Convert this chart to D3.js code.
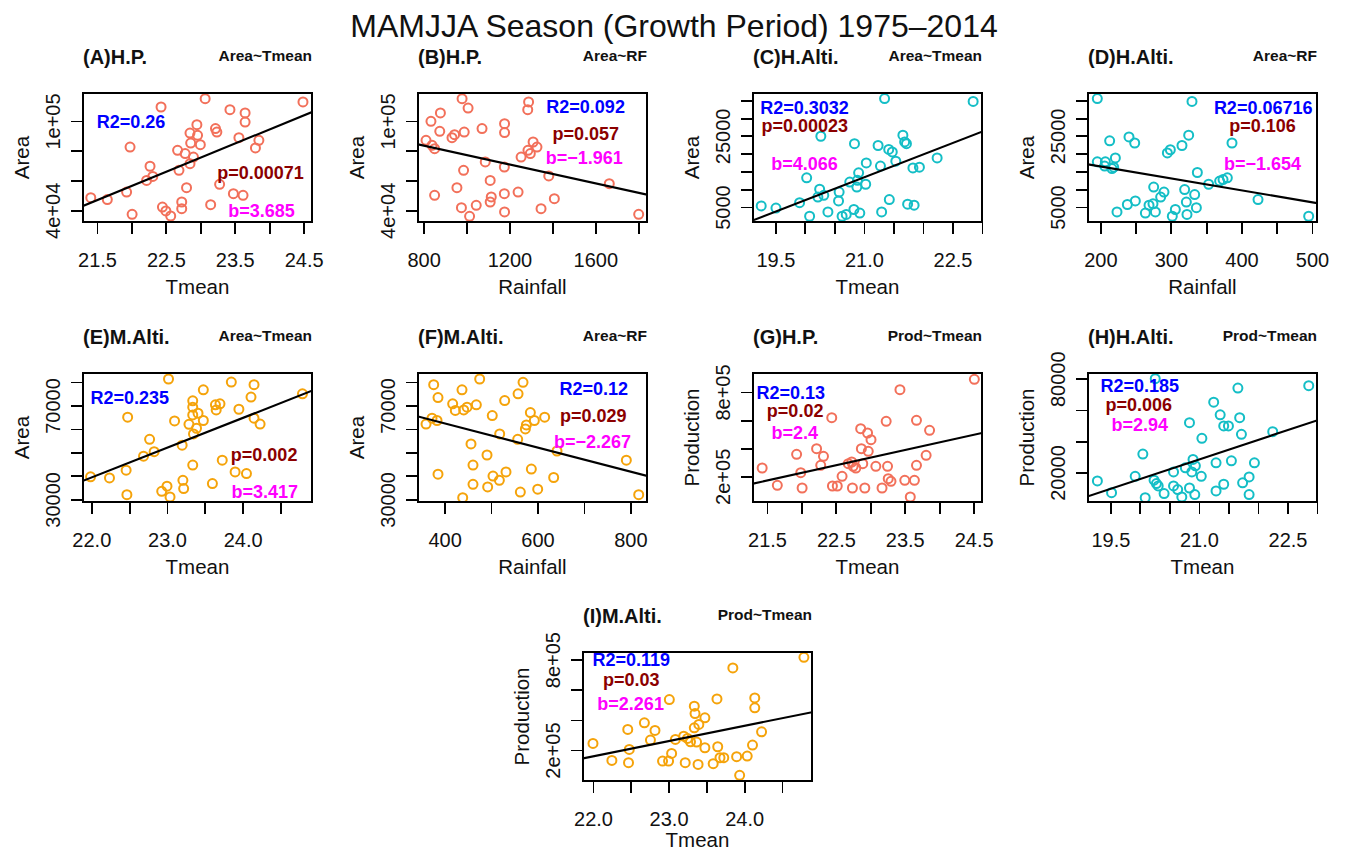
<!DOCTYPE html>
<html><head><meta charset="utf-8">
<script src="https://cdn.jsdelivr.net/npm/d3@7"></script>
<style>body{margin:0;background:#fff} svg{display:block} text{font-family:"Liberation Sans",Arial,Helvetica,sans-serif}</style>
</head><body><svg id="c" width="1347" height="854"></svg>
<script>
// ---------- DATA ----------
const mainTitle = "MAMJJA Season (Growth Period) 1975\u20132014";
const panelLabels = ["(A)H.P.","(B)H.P.","(C)H.Alti.","(D)H.Alti.","(E)M.Alti.","(F)M.Alti.","(G)H.P.","(H)H.Alti.","(I)M.Alti."];
const formulas = ["Area~Tmean","Area~RF","Area~Tmean","Area~RF","Area~Tmean","Area~RF","Prod~Tmean","Prod~Tmean","Prod~Tmean"];
const xTitles = ["Tmean","Rainfall","Tmean","Rainfall","Tmean","Rainfall","Tmean","Tmean","Tmean"];
const yTitles = ["Area","Area","Area","Area","Area","Area","Production","Production","Production"];
const r2Text = ["R2=0.26","R2=0.092","R2=0.3032","R2=0.06716","R2=0.235","R2=0.12","R2=0.13","R2=0.185","R2=0.119"];
const pText  = ["p=0.00071","p=0.057","p=0.00023","p=0.106","p=0.002","p=0.029","p=0.02","p=0.006","p=0.03"];
const bText  = ["b=3.685","b=\u22121.961","b=4.066","b=\u22121.654","b=3.417","b=\u22122.267","b=2.4","b=2.94","b=2.261"];

const xA = [21.41,21.65,21.93,22.01,21.98,22.27,22.22,22.31,22.43,22.45,22.50,22.57,22.73,22.73,22.69,22.67,22.78,22.80,22.85,22.90,22.86,22.85,22.95,22.96,23.00,23.07,23.15,23.22,23.24,23.28,23.43,23.48,23.62,23.56,23.65,23.65,23.80,23.85,24.49];
const yA = [48500,47200,52300,37300,82500,69600,60100,62800,109400,42200,39600,36200,45600,41100,66900,80300,78100,55200,71300,75800,85200,91900,97500,90400,84100,115000,43800,94900,92600,57500,107600,51200,50100,88800,105400,99300,81900,87000,112800];

const xB = [811,834,878,875,839,851,851,932,944,989,979,1007,1072,986,955,976,1014,1045,1087,1110,1115,1110,1177,1177,1176,1176,1177,1240,1254,1289,1285,1286,1297,1310,1328,1347,1383,1409,1665,1802];
const yB = [87000,99800,105400,93100,83700,81400,50100,88800,90800,92600,115000,108700,94900,66900,55200,41800,36000,43400,72500,60100,49000,45600,98200,92200,69100,51200,38900,52300,75800,112800,107600,80300,78100,85900,82500,41100,63100,47800,57900,37300];

const xC = [19.26,19.51,19.91,20.03,20.08,20.25,20.22,20.32,20.27,20.39,20.58,20.57,20.63,20.70,20.76,20.83,20.84,20.89,20.91,20.88,20.93,21.03,21.04,21.24,21.28,21.30,21.35,21.42,21.48,21.54,21.43,21.66,21.69,21.72,21.74,21.85,21.83,21.94,22.24,22.85];
const yC = [5300,4700,6200,13200,2400,10000,7800,8300,24900,3600,9200,6700,2400,2900,12000,4300,22800,12500,14600,10600,3300,11400,17400,22300,16500,3600,35500,21200,20500,17900,7100,25200,23300,22800,5800,5500,16000,16200,18800,34700];

const xD = [195.7,195.7,207.1,206.1,213.2,218.9,216.5,221.3,223.6,238.3,240.6,248.7,249.6,263.8,269.0,274.6,275.6,278.0,285.5,290.2,295.0,299.2,302.0,306.3,315.7,319.5,321.9,322.8,325.2,329.9,333.7,336.1,337.5,353.5,369.1,373.9,380.0,386.6,423.5,495.3];
const yD = [35500,17700,17700,16500,23600,16200,15800,18800,3600,5700,24700,23000,6700,3300,5500,5900,10600,3600,7800,9200,20200,21100,2400,4300,22300,9900,6400,2900,25200,34700,8500,4800,14700,11400,12300,12700,13200,23000,7100,2400];

const xE = [21.99,22.24,22.46,22.47,22.48,22.69,22.77,22.83,22.93,23.00,23.04,23.02,23.10,23.20,23.21,23.22,23.29,23.34,23.34,23.34,23.35,23.39,23.41,23.34,23.48,23.48,23.60,23.64,23.65,23.70,23.73,23.85,23.90,23.95,24.05,24.11,24.15,24.15,24.23,24.79];
const yE = [39600,39100,42400,32000,65000,48400,55600,50300,33400,35600,31000,81300,63400,53100,38100,34600,62000,72000,69300,66000,57900,60300,66700,44600,63600,76700,36700,70300,68100,70700,46700,80000,41700,68400,41000,73600,78900,64600,62100,75000];

const xF = [359.8,372.7,376.3,385.6,383.5,385.6,417.2,422.9,437.3,438.8,441.0,448.2,456.7,461.0,461.0,468.2,475.4,491.2,492.6,502.5,504.1,517.8,518.5,529.3,532.1,557.3,558.1,563.0,568.8,573.8,576.0,584.6,586.7,593.2,600.4,615.4,634.8,642.0,791.4,818.0];
const yF = [62100,64600,78900,73400,63600,40700,70700,67900,76700,30700,68100,69300,53600,44600,36400,70300,81300,48900,35300,65700,39900,38100,57900,72100,41700,55600,75000,33100,79900,60000,61700,67000,42900,63600,34300,65000,39300,50600,46700,32000];

const xG = [21.43,21.65,21.93,21.99,22.01,22.22,22.28,22.32,22.44,22.45,22.52,22.59,22.68,22.73,22.74,22.75,22.79,22.86,22.87,22.89,22.92,22.96,22.97,23.01,23.08,23.17,23.23,23.25,23.26,23.30,23.43,23.50,23.58,23.64,23.67,23.67,23.81,23.86,24.51];
const yG = [259300,136000,356500,226100,117000,396800,278300,342300,617400,131200,131200,200000,290100,302000,117000,271100,259300,539100,396800,290100,117000,508300,377900,460900,271100,117000,591300,271100,183400,164400,816600,171500,53000,171500,598400,278300,349400,527300,890100];

const xH = [19.28,19.52,19.92,20.05,20.09,20.24,20.28,20.26,20.31,20.41,20.57,20.57,20.64,20.71,20.77,20.84,20.84,20.88,20.90,20.94,20.93,21.04,21.05,21.29,21.29,21.25,21.36,21.42,21.42,21.50,21.55,21.66,21.69,21.72,21.74,21.85,21.85,21.94,22.25,22.86];
const yH = [14600,7100,17600,31800,3900,15100,12900,80000,11400,6500,20400,11400,9100,4400,23000,51900,10100,20400,28400,24300,5900,17600,41900,8200,26200,65000,56900,12500,49800,49800,27500,74000,55100,44400,13400,17200,5900,26200,46100,75500];

const xI = [22.00,22.25,22.46,22.47,22.48,22.68,22.76,22.82,22.92,23.00,23.04,23.01,23.09,23.20,23.22,23.25,23.29,23.34,23.35,23.34,23.37,23.40,23.39,23.48,23.48,23.59,23.64,23.65,23.68,23.73,23.85,23.90,23.94,24.04,24.11,24.14,24.14,24.23,24.79];
const yI = [244100,131600,336800,116200,204400,380900,266200,330100,127200,127200,177900,535300,270600,292600,116200,277200,255100,491200,442600,347800,252900,369900,105100,414000,215400,109600,539700,222100,149300,149300,744900,155900,32400,160300,233100,546300,480100,321300,815400];

// fitted regression lines (intercept, slope)
const fitIntercept = [-361605,108800,-121564,23128,-239884,82863,-2161837,-234404,-2068623];
const fitSlope     = [18994,-31.67,6423,-33.58,12690,-51.28,108454,12510,101222];

// axis ranges
const xDomains = [[21.297,24.621],[773.6,1840.8],[19.121,23.0],[182.5,507.1],[21.89,24.916],[342.5,835.9],[21.297,24.621],[19.121,23.0],[21.868,24.897]];
const yDomains = [[32164,118806],[32164,118806],[781,37063],[781,37063],[28857,83857],[28857,83857],[17392,935174],[1143,83643],[-5100,850700]];

// ticks and labels
const tmeanHPTicks = [21.5,22,22.5,23,23.5,24,24.5], tmeanHPLabels = ["21.5","22.5","23.5","24.5"];
const rfHPTicks = [800,1000,1200,1400,1600,1800], rfHPLabels = ["800","1200","1600"];
const tmeanHATicks = [19.5,20,20.5,21,21.5,22,22.5,23], tmeanHALabels = ["19.5","21.0","22.5"];
const rfHATicks = [200,250,300,350,400,450,500], rfHALabels = ["200","300","400","500"];
const tmeanMATicks = [22,22.5,23,23.5,24,24.5], tmeanMALabels = ["22.0","23.0","24.0"];
const rfMATicks = [400,500,600,700,800], rfMALabels = ["400","600","800"];
const areaHPTicks = [40000,60000,80000,100000], areaHPLabels = {40000:"4e+04",100000:"1e+05"};
const areaHATicks = [5000,10000,15000,20000,25000,30000,35000], areaHALabels = {5000:"5000",25000:"25000"};
const areaMATicks = [30000,40000,50000,60000,70000,80000], areaMALabels = {30000:"30000",70000:"70000"};
const prodTicks = [200000,400000,600000,800000], prodLabels = {200000:"2e+05",800000:"8e+05"};
const prodHATicks = [20000,40000,60000,80000], prodHALabels = {20000:"20000",80000:"80000"};

// ---------- LAYOUT / STYLE ----------
const colSalmon = "#F2705A", colCyan = "#14BEC6", colOrange = "#F5A30A";
const statColors = ["#0000FF","#8B0000","#FF00FF"];
const boxW = 229, boxH = 129;
const panels = [
 {x:xA,y:yA,left:83,top:93,xtOff:72,col:colSalmon,xt:tmeanHPTicks,xl:tmeanHPLabels,yt:areaHPTicks,yl:areaHPLabels,sp:[[0.21,0.268],[0.775,0.664],[0.78,0.961]]},
 {x:xB,y:yB,left:418,top:93,xtOff:72,col:colSalmon,xt:rfHPTicks,xl:rfHPLabels,yt:areaHPTicks,yl:areaHPLabels,sp:[[0.732,0.155],[0.733,0.367],[0.726,0.547]]},
 {x:xC,y:yC,left:753,top:93,xtOff:72,col:colCyan,xt:tmeanHATicks,xl:tmeanHALabels,yt:areaHATicks,yl:areaHALabels,sp:[[0.225,0.16],[0.226,0.302],[0.225,0.6]]},
 {x:xD,y:yD,left:1088,top:93,xtOff:72,col:colCyan,xt:rfHATicks,xl:rfHALabels,yt:areaHATicks,yl:areaHALabels,sp:[[0.765,0.16],[0.762,0.302],[0.762,0.6]]},
 {x:xE,y:yE,left:83,top:373,xtOff:72,col:colOrange,xt:tmeanMATicks,xl:tmeanMALabels,yt:areaMATicks,yl:areaMALabels,sp:[[0.204,0.239],[0.791,0.68],[0.794,0.966]]},
 {x:xF,y:yF,left:418,top:373,xtOff:72,col:colOrange,xt:rfMATicks,xl:rfMALabels,yt:areaMATicks,yl:areaMALabels,sp:[[0.768,0.169],[0.765,0.377],[0.762,0.584]]},
 {x:xG,y:yG,left:753,top:373,xtOff:72,col:colSalmon,xt:tmeanHPTicks,xl:tmeanHPLabels,yt:prodTicks,yl:prodLabels,sp:[[0.165,0.2],[0.184,0.338],[0.182,0.514]]},
 {x:xH,y:yH,left:1088,top:373,xtOff:72,col:colCyan,xt:tmeanHATicks,xl:tmeanHALabels,yt:prodHATicks,yl:prodHALabels,sp:[[0.226,0.151],[0.222,0.293],[0.226,0.449]]},
 {x:xI,y:yI,left:583,top:652,xtOff:66,col:colOrange,xt:tmeanMATicks,xl:tmeanMALabels,yt:prodTicks,yl:prodLabels,sp:[[0.211,0.112],[0.211,0.267],[0.208,0.447]]}
];

const svg = d3.select("#c");
svg.append("rect").attr("width",1347).attr("height",854).attr("fill","#fff");
svg.append("text").attr("x",674).attr("y",37).attr("text-anchor","middle")
  .attr("font-size",32).attr("fill","#111").text(mainTitle);

panels.forEach((p,i) => {
  const g = svg.append("g").attr("transform",`translate(${p.left},${p.top})`);
  const xs = d3.scaleLinear().domain(xDomains[i]).range([0,boxW]);
  const ys = d3.scaleLinear().domain(yDomains[i]).range([boxH,0]);
  const cid = "clip"+i;
  g.append("clipPath").attr("id",cid).append("rect").attr("width",boxW).attr("height",boxH);
  const inner = g.append("g").attr("clip-path",`url(#${cid})`);
  inner.selectAll("circle").data(p.x.map((v,k)=>[v,p.y[k]])).join("circle")
    .attr("cx",d=>xs(d[0])).attr("cy",d=>ys(d[1])).attr("r",4.5)
    .attr("fill","none").attr("stroke",p.col).attr("stroke-width",2);
  const xd = xDomains[i];
  inner.append("line")
    .attr("x1",xs(xd[0])).attr("y1",ys(fitIntercept[i]+fitSlope[i]*xd[0]))
    .attr("x2",xs(xd[1])).attr("y2",ys(fitIntercept[i]+fitSlope[i]*xd[1]))
    .attr("stroke","#000").attr("stroke-width",2.1);
  // stats
  const st = [r2Text[i],pText[i],bText[i]];
  st.forEach((t,k)=>{
    g.append("text").attr("x",p.sp[k][0]*boxW).attr("y",p.sp[k][1]*boxH)
      .attr("text-anchor","middle").attr("font-weight","bold").attr("font-size",18)
      .attr("fill",statColors[k]).text(t);
  });
  // x axis
  const xl = new Set(p.xl);
  const xAxis = d3.axisBottom(xs).tickValues(p.xt).tickSize(12).tickPadding(19)
    .tickFormat(d => { const s = (Number.isInteger(d) && d>100) ? String(d) : d.toFixed(1); return xl.has(s)?s:""; });
  const gx = g.append("g").attr("transform",`translate(0,${boxH})`).call(xAxis);
  gx.select(".domain").remove();
  gx.selectAll("line").attr("stroke","#000").attr("stroke-width",1.8);
  gx.selectAll("text").attr("font-size",20).attr("fill","#111").attr("font-family",null);
  // y axis
  const yAxis = d3.axisLeft(ys).tickValues(p.yt).tickSize(12).tickFormat(d => p.yl[d] || "");
  const gy = g.append("g").call(yAxis);
  gy.select(".domain").remove();
  gy.selectAll("line").attr("stroke","#000").attr("stroke-width",1.8);
  gy.selectAll("text").attr("x",null).attr("dy",null).attr("text-anchor","middle")
    .attr("transform","translate(-23,0) rotate(-90)").attr("font-size",20).attr("fill","#111").attr("font-family",null);
  g.selectAll(".tick line").attr("shape-rendering","crispEdges");
  // box
  g.append("rect").attr("width",boxW).attr("height",boxH).attr("fill","none")
    .attr("stroke","#000").attr("stroke-width",2);
  // titles
  g.append("text").attr("x",0).attr("y",-29.5).attr("font-weight","bold").attr("font-size",20)
    .attr("fill","#111").text(panelLabels[i]);
  g.append("text").attr("x",boxW).attr("y",-32).attr("text-anchor","end").attr("font-weight","bold")
    .attr("font-size",15.5).attr("fill","#111").text(formulas[i]);
  g.append("text").attr("x",boxW/2).attr("y",boxH+p.xtOff).attr("text-anchor","middle")
    .attr("font-size",20.5).attr("fill","#111").text(xTitles[i]);
  g.append("text").attr("transform",`translate(-54,${boxH/2}) rotate(-90)`).attr("text-anchor","middle")
    .attr("font-size",20.5).attr("fill","#111").text(yTitles[i]);
});
</script></body></html>
